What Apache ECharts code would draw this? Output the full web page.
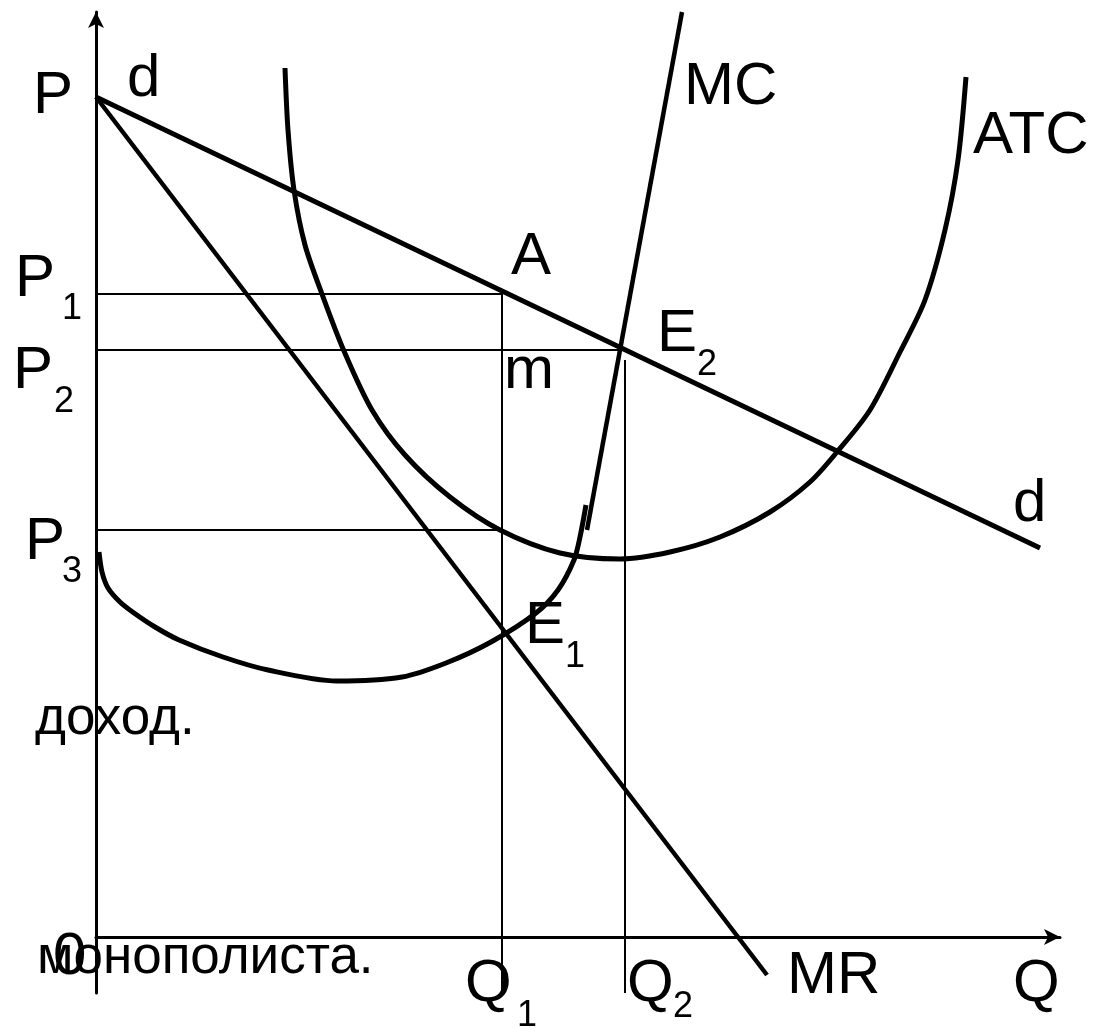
<!DOCTYPE html>
<html>
<head>
<meta charset="utf-8">
<title>Монополия: MC, ATC, d, MR</title>
<script src="https://cdn.jsdelivr.net/npm/echarts@6/dist/echarts.min.js"></script>
<style>
  html, body { margin: 0; padding: 0; background: #fff; }
  #main { width: 1097px; height: 1028px; }
</style>
</head>
<body>
<div id="main"></div>
<script>
// chart units: Q along x, P along y (origin = 0)
var dLine = [[0, 84.0], [94.4, 38.9]];
var mrLine = [[0, 84.0], [67.1, -3.8]];
var mcUpper = [[58.6, 92.5], [49.1, 40.7]];
var mcLower = [
    [0.3, 38.5], [0.6, 36.5], [1.2, 34.9], [2.4, 33.5], [3.8, 32.4], [5.9, 31.0],
    [8.3, 29.7], [12.7, 28.0], [17.2, 26.7], [24.1, 25.6], [30.6, 26.0], [35.0, 27.4],
    [39.5, 29.5], [44.0, 32.4], [46.2, 34.7], [47.8, 37.7], [48.4, 40.0], [49.0, 43.2]
];
var atcCurve = [
    [18.9, 86.9], [19.2, 80.7], [19.8, 74.7], [20.9, 69.2], [22.6, 64.3], [24.8, 58.6],
    [27.6, 52.7], [30.9, 48.2], [35.4, 44.0], [40.4, 40.7], [46.4, 38.4], [52.4, 37.8],
    [57.4, 38.5], [62.4, 40.0], [67.4, 42.5], [71.4, 45.5], [74.1, 48.5], [77.4, 52.7],
    [80.4, 58.5], [82.9, 63.7], [84.9, 70.7], [86.2, 77.7], [87.0, 86.0]
];
// thin guide lines
var guideP1 = [[0, 64.3], [40.6, 64.3]];
var guideP2 = [[-0.9, 58.7], [52.6, 58.7]];
var guideP3 = [[0, 40.7], [40.6, 40.7]];
var guideQ1 = [[40.6, 64.3], [40.6, -5.6]];
var guideQ2 = [[52.9, 57.7], [52.9, -5.6]];

// text, x, y (middle of line), font size
var labels = [
    ['P', -6.3, 84.1, 60], ['d', 3.1, 85.8, 60], ['MC', 58.8, 85.0, 60], ['ATC', 87.7, 80.1, 60],
    ['A', 41.5, 68.0, 60],
    ['P', -8.1, 65.8, 60], ['1', -3.4, 62.75, 36],
    ['E', 56.1, 60.3, 60], ['2', 60.1, 57.15, 36],
    ['P', -8.3, 56.6, 60], ['2', -4.2, 53.45, 36],
    ['m', 40.8, 56.6, 60],
    ['P', -7.1, 39.5, 60], ['3', -3.4, 36.45, 36],
    ['E', 42.9, 31.1, 60], ['1', 46.9, 27.95, 36],
    ['d', 91.7, 43.3, 60],
    ['доход.', -6.1, 21.8, 53],
    ['0', -4.3, -2.0, 60],
    ['монополиста.', -5.9, -2.1, 53],
    ['Q', 36.9, -4.7, 60], ['1', 42.1, -7.95, 36],
    ['Q', 53.1, -4.7, 60], ['2', 57.7, -7.05, 36],
    ['MR', 69.1, -3.9, 60],
    ['Q', 91.7, -4.7, 60]
];

var FONT = '"Liberation Sans", Arial, sans-serif';

function lineSeries(data, width, extra) {
    var s = {
        type: 'line',
        data: data,
        symbol: 'none',
        silent: true,
        lineStyle: { color: '#000', width: width },
        z: 3
    };
    for (var k in extra) s[k] = extra[k];
    return s;
}

var chart = echarts.init(document.getElementById('main'));
var option = {
    backgroundColor: '#fff',
    animation: false,
    grid: { left: 96, right: 37, top: 12, bottom: 35 },
    xAxis: {
        type: 'value', min: 0, max: 96.4,
        axisLine: { onZero: true, symbol: ['none', 'arrow'], symbolSize: [12, 16], lineStyle: { color: '#000', width: 3 } },
        axisTick: { show: false }, axisLabel: { show: false }, splitLine: { show: false }
    },
    yAxis: {
        type: 'value', min: -5.6, max: 92.5,
        axisLine: { symbol: ['none', 'arrow'], symbolSize: [12, 16], lineStyle: { color: '#000', width: 3 } },
        axisTick: { show: false }, axisLabel: { show: false }, splitLine: { show: false }
    },
    series: [
        lineSeries(guideP1, 2, {}),
        lineSeries(guideP2, 2, { clip: false }),
        lineSeries(guideP3, 2, {}),
        lineSeries(guideQ1, 2, {}),
        lineSeries(guideQ2, 2, {}),
        lineSeries(dLine, 5, {}),
        lineSeries(mrLine, 4.5, {}),
        lineSeries(mcUpper, 4.5, {}),
        lineSeries(mcLower, 5, { smooth: 0.3 }),
        lineSeries(atcCurve, 5, { smooth: 0.3 })
    ]
};
chart.setOption(option);

chart.setOption({
    graphic: labels.map(function (l) {
        var p = chart.convertToPixel({ gridIndex: 0 }, [l[1], l[2]]);
        return {
            type: 'text', x: p[0], y: p[1], z: 10, silent: true,
            style: { text: l[0], fill: '#000', fontSize: l[3], fontFamily: FONT, align: 'left', verticalAlign: 'middle' }
        };
    })
});
</script>
</body>
</html>
